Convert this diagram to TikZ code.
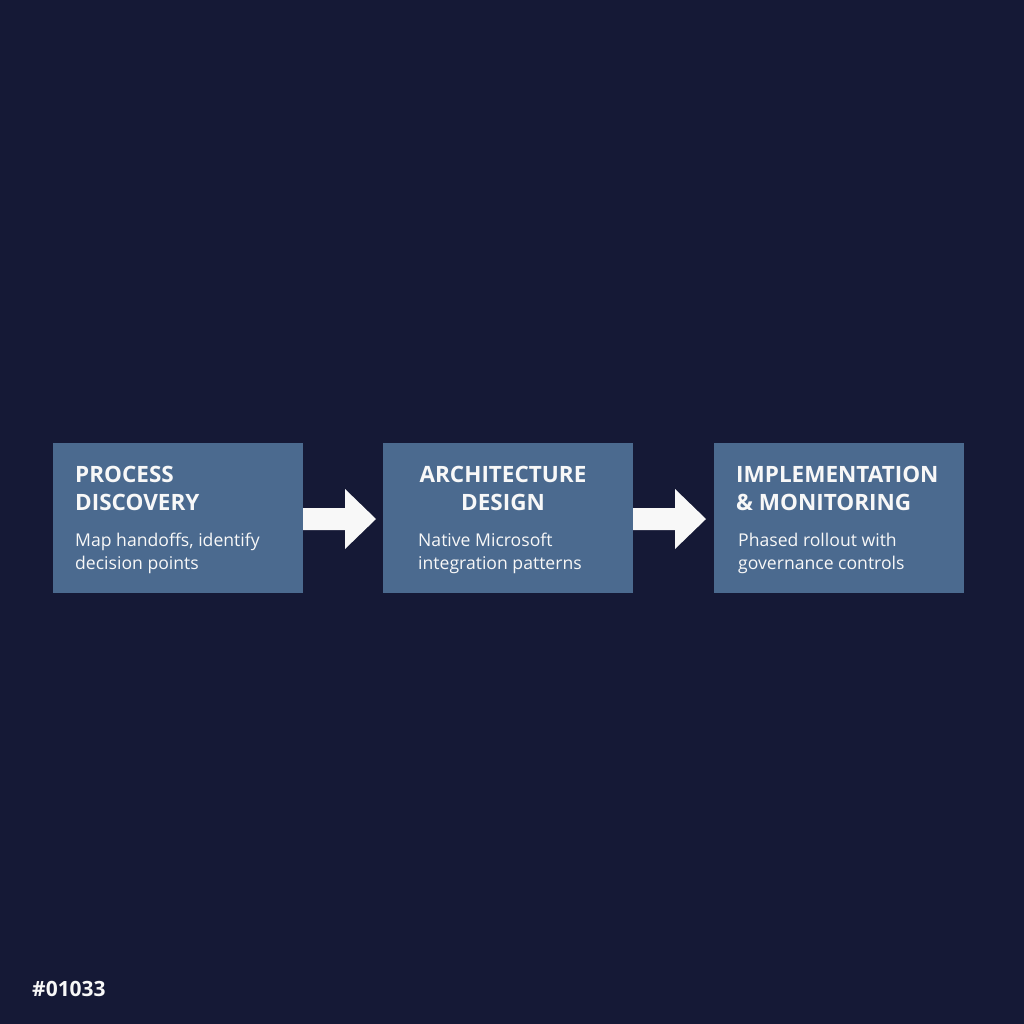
\documentclass[tikz,border=0pt]{standalone}
\usepackage{fontspec}
\setmainfont{Open Sans}
\definecolor{bg}{HTML}{151936}
\definecolor{boxc}{HTML}{4B6A8F}
\definecolor{txt}{HTML}{F8F8F8}
\begin{document}
\begin{tikzpicture}[x=1pt,y=-1pt,
  stage/.style={fill=boxc,draw=none,minimum width=250pt,minimum height=150pt,inner sep=0pt},
  ttl/.style={text=txt,font=\fontsize{22.5}{28}\selectfont\bfseries,anchor=north west,inner sep=0pt},
  bdy/.style={text=txt,font=\fontsize{17.6}{23}\selectfont,anchor=north west,inner sep=0pt},
  flow/.style={fill=txt,draw=none}]
\fill[bg] (0,0) rectangle (1024,1024);
\useasboundingbox (0,0) rectangle (1024,1024);
\node[stage] (b1) at (178,518) {};
\node[stage] (b2) at (508,518) {};
\node[stage] (b3) at (838.5,518) {};
% texts
\node[ttl,align=left] (t1) at (75,466) {PROCESS\\DISCOVERY};
\node[bdy,align=left] (d1) at (75,533) {Map handoffs, identify\\decision points};
\node[ttl,align=center,anchor=north] (t2) at (503,466) {ARCHITECTURE\\DESIGN};
\node[bdy,align=left] (d2) at (418,533) {Native Microsoft\\integration patterns};
\node[ttl,align=left] (t3) at (736,466) {IMPLEMENTATION\\\&\ MONITORING};
\node[bdy,align=left] (d3) at (738,533) {Phased rollout with\\governance controls};
% arrows
\fill[flow] (b1.east|-0,508) -- (345,508) -- (345,489) -- (376,519) -- (345,549) -- (345,530) -- (b1.east|-0,530) -- cycle;
\fill[flow] (b2.east|-0,508) -- (675,508) -- (675,489) -- (706,519) -- (675,549) -- (675,530) -- (b2.east|-0,530) -- cycle;
\node[text=txt,font=\fontsize{21}{26}\selectfont\bfseries,anchor=south west,inner sep=0pt] (id) at (32,997) {\#01033};
\end{tikzpicture}
\end{document}
